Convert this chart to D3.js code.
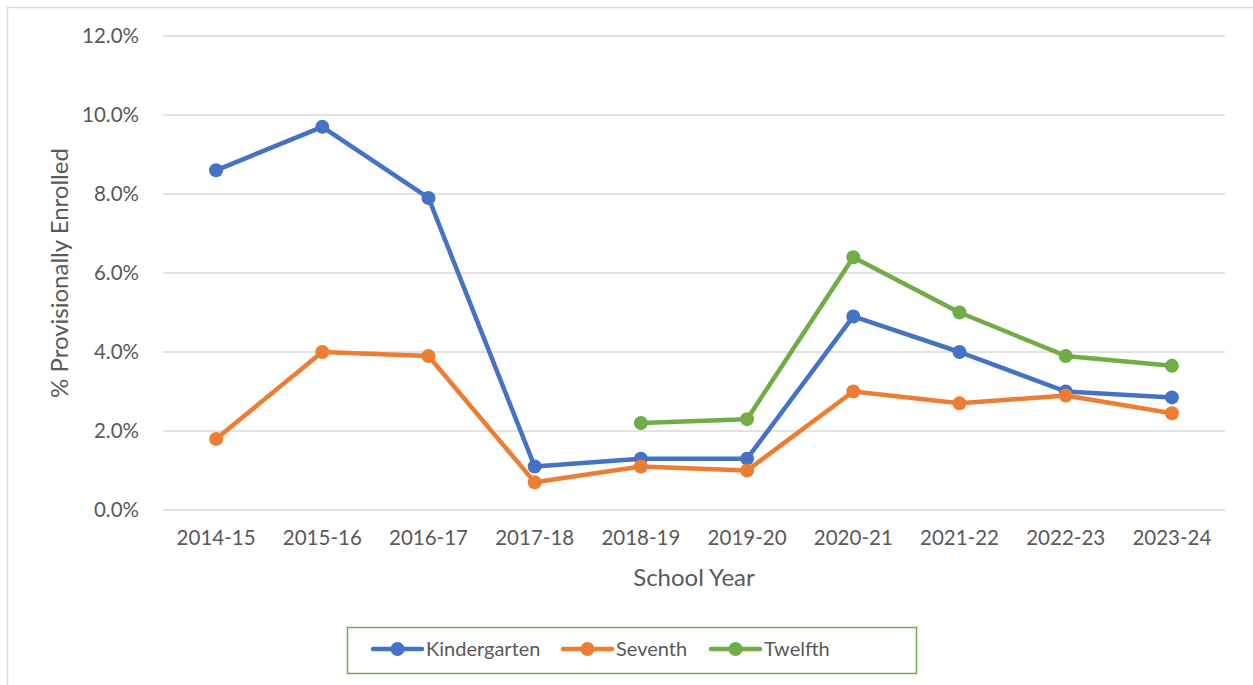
<!DOCTYPE html>
<html>
<head>
<meta charset="utf-8">
<script src="https://cdn.jsdelivr.net/npm/d3@7"></script>
<style>
  body { margin: 0; background: #fff; }
  svg { display: block; font-family: Lato, "Open Sans", sans-serif; }
</style>
</head>
<body>
<svg id="chart"></svg>
<script>
const years = ["2014-15", "2015-16", "2016-17", "2017-18", "2018-19", "2019-20", "2020-21", "2021-22", "2022-23", "2023-24"];
const kindergarten = [8.6, 9.7, 7.9, 1.1, 1.3, 1.3, 4.9, 4.0, 3.0, 2.85];
const seventh = [1.8, 4.0, 3.9, 0.7, 1.1, 1.0, 3.0, 2.7, 2.9, 2.45];
const twelfth = [null, null, null, null, 2.2, 2.3, 6.4, 5.0, 3.9, 3.65];
const yTicks = [0, 2, 4, 6, 8, 10, 12];

const series = [
  { name: "Kindergarten", values: kindergarten, color: "#4472C4" },
  { name: "Seventh", values: seventh, color: "#ED7D31" },
  { name: "Twelfth", values: twelfth, color: "#70AD47" }
];

const width = 1253;
const height = 685;
const plotLeft = 163, plotRight = 1225, plotTop = 36, plotBottom = 510;
const textColor = "#595959";

const svg = d3.select("#chart")
  .attr("width", width)
  .attr("height", height);

// chart frame (right and bottom edges run off the picture)
svg.append("rect")
   .attr("x", 7.5).attr("y", 7.5)
   .attr("width", width + 20).attr("height", height + 20)
   .attr("fill", "none")
   .attr("stroke", "#D9D9D9")
   .attr("stroke-width", 1.5);

const xScale = d3.scaleBand()
  .domain(years)
  .range([plotLeft, plotRight]);

const yScale = d3.scaleLinear()
  .domain([0, 12])
  .range([plotBottom, plotTop]);

// gridlines
svg.append("g")
   .selectAll("line")
   .data(yTicks)
   .enter()
   .append("line")
   .attr("x1", plotLeft).attr("x2", plotRight)
   .attr("y1", d => yScale(d)).attr("y2", d => yScale(d))
   .attr("stroke", "#D9D9D9")
   .attr("stroke-width", 1.5);

// y axis
const yAxis = d3.axisLeft(yScale)
  .tickValues(yTicks)
  .tickFormat(d => d.toFixed(1) + "%")
  .tickSize(0)
  .tickPadding(24);

const yG = svg.append("g")
  .attr("transform", "translate(" + plotLeft + ",0)")
  .call(yAxis);
yG.select(".domain").remove();
yG.selectAll("text")
  .attr("fill", textColor)
  .style("font-size", "20.5px")
  .style("font-family", "Lato, sans-serif");

// x axis
const xAxis = d3.axisBottom(xScale)
  .tickSize(0)
  .tickPadding(20);

const xG = svg.append("g")
  .attr("transform", "translate(0," + plotBottom + ")")
  .call(xAxis);
xG.select(".domain").remove();
xG.selectAll("text")
  .attr("fill", textColor)
  .style("font-size", "20.5px")
  .style("font-family", "Lato, sans-serif");

// axis titles
svg.append("text")
   .attr("transform", "translate(68," + ((plotTop + plotBottom) / 2) + ") rotate(-90)")
   .attr("text-anchor", "middle")
   .attr("fill", textColor)
   .style("font-size", "24px")
   .text("% Provisionally Enrolled");

svg.append("text")
   .attr("x", (plotLeft + plotRight) / 2)
   .attr("y", 586)
   .attr("text-anchor", "middle")
   .attr("fill", textColor)
   .style("font-size", "24px")
   .text("School Year");

const xPos = (d, i) => xScale(years[i]) + xScale.bandwidth() / 2;

const line = d3.line()
  .defined(d => d !== null)
  .x(xPos)
  .y(d => yScale(d));

series.forEach(s => {
  svg.append("path")
     .datum(s.values)
     .attr("d", line)
     .attr("fill", "none")
     .attr("stroke", s.color)
     .attr("stroke-width", 4.5)
     .attr("stroke-linejoin", "round")
     .attr("stroke-linecap", "round");

  svg.append("g")
     .selectAll("circle")
     .data(s.values.map((v, i) => ({ v, i })).filter(d => d.v !== null))
     .enter()
     .append("circle")
     .attr("cx", d => xScale(years[d.i]) + xScale.bandwidth() / 2)
     .attr("cy", d => yScale(d.v))
     .attr("r", 7)
     .attr("fill", s.color);
});

// legend
svg.append("rect")
   .attr("x", 347.5).attr("y", 627.5)
   .attr("width", 569).attr("height", 46)
   .attr("fill", "#fff")
   .attr("stroke", "#70AD47")
   .attr("stroke-width", 1.5);

const legendX = [373, 563, 711];
const legend = svg.append("g")
  .selectAll("g")
  .data(series)
  .enter()
  .append("g")
  .attr("transform", (d, i) => "translate(" + legendX[i] + ",649)");

legend.append("line")
  .attr("x1", 0).attr("x2", 49)
  .attr("stroke", d => d.color)
  .attr("stroke-width", 4.5)
  .attr("stroke-linecap", "round");
legend.append("circle")
  .attr("cx", 24.5)
  .attr("r", 7)
  .attr("fill", d => d.color);
legend.append("text")
  .attr("x", 53)
  .attr("y", 7)
  .attr("fill", textColor)
  .style("font-size", "20px")
  .text(d => d.name);
</script>
</body>
</html>
